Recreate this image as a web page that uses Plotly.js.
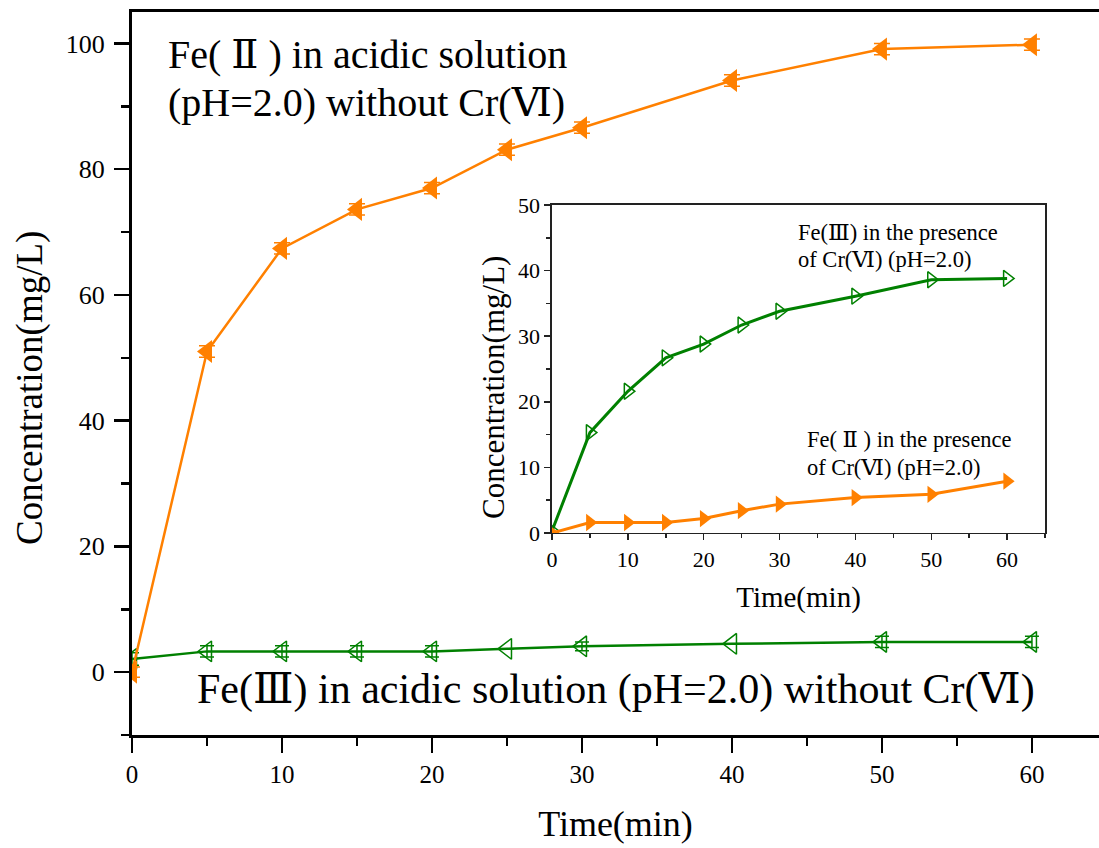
<!DOCTYPE html>
<html>
<head>
<meta charset="utf-8">
<script src="https://cdn.plot.ly/plotly-3.0.1.min.js"></script>
<style>html,body{margin:0;padding:0;background:#fff;overflow:hidden}</style>
</head>
<body>
<div id="chart" style="width:1099px;height:848px"></div>
<script>
// Main chart data
const time = [0, 5, 10, 15, 20, 25, 30, 40, 50, 60];
const fe2NoCr = [0, 51.0, 67.4, 73.6, 77.0, 83.1, 86.6, 94.1, 99.1, 99.8];
const fe3NoCr = [2.1, 3.3, 3.3, 3.3, 3.3, 3.7, 4.1, 4.5, 4.8, 4.8];
const fe2NoCrErr = [0.8, 0.9, 0.9, 0.9, 0.9, 0.9, 0.9, 0.9, 0.9, 0.9];
const fe3NoCrErr = [1.0, 0.9, 0.9, 0.9, 0.9, 0, 0.7, 0, 0.9, 0.9];
// Inset data
const fe3WithCr = [0.3, 15.3, 21.6, 26.7, 28.8, 31.7, 33.8, 36.1, 38.6, 38.8];
const fe2WithCr = [0, 1.6, 1.6, 1.6, 2.2, 3.4, 4.4, 5.4, 5.9, 7.9];
// Text labels
const mainNote1 = ['Fe( Ⅱ ) in acidic solution', '(pH=2.0) without Cr(Ⅵ)'];
const mainNote2 = 'Fe(Ⅲ) in acidic solution (pH=2.0) without Cr(Ⅵ)';
const insetNote1 = ['Fe(Ⅲ) in the presence', 'of Cr(Ⅵ) (pH=2.0)'];
const insetNote2 = ['Fe( Ⅱ ) in the presence', 'of Cr(Ⅵ) (pH=2.0)'];

const ORANGE = '#FF8000';
const GREEN = '#008000';
const FONT = '"Liberation Serif", "DejaVu Serif", serif';

const traces = [
  {x: time, y: fe3NoCr, type: 'scatter', mode: 'lines+markers',
   line: {color: GREEN, width: 2.5},
   marker: {symbol: 'triangle-left-open', size: 18, color: GREEN, line: {width: 1.5, color: GREEN}},
   error_y: {type: 'data', array: fe3NoCrErr, visible: true, color: GREEN, thickness: 1.5, width: 7},
   xaxis: 'x', yaxis: 'y', showlegend: false},
  {x: time, y: fe2NoCr, type: 'scatter', mode: 'lines+markers',
   line: {color: ORANGE, width: 2.5},
   marker: {symbol: 'triangle-left', size: 20, color: ORANGE, line: {width: 0}},
   error_y: {type: 'data', array: fe2NoCrErr, visible: true, color: ORANGE, thickness: 1.5, width: 8},
   xaxis: 'x', yaxis: 'y', showlegend: false},
  {x: time, y: fe3WithCr, type: 'scatter', mode: 'lines+markers',
   line: {color: GREEN, width: 3},
   marker: {symbol: 'triangle-right-open', size: 14, color: GREEN, line: {width: 1.5, color: GREEN}},
   xaxis: 'x2', yaxis: 'y2', showlegend: false},
  {x: time, y: fe2WithCr, type: 'scatter', mode: 'lines+markers',
   line: {color: ORANGE, width: 3},
   marker: {symbol: 'triangle-right', size: 15, color: ORANGE, line: {width: 0}},
   xaxis: 'x2', yaxis: 'y2', showlegend: false}
];

function note(text, xpx, ypx, size, anchor) {
  return {xref: 'paper', yref: 'paper',
    x: (xpx - 132) / 967, y: (735 - ypx) / 723,
    xanchor: anchor || 'left', yanchor: 'middle', text: text, showarrow: false,
    font: {size: size, family: FONT, color: '#000'}};
}

const annotations = [
  note(mainNote1[0], 166, 54, 40),
  note(mainNote1[1], 166, 102, 40),
  note(mainNote2, 195, 689, 42),
  note(insetNote1[0], 796, 232, 22.5),
  note(insetNote1[1], 796, 259, 22.5),
  note(insetNote2[0], 805, 439, 22.5),
  note(insetNote2[1], 805, 467, 22.5)
];
const yTitle = note('Concentration(mg/L)', 30, 388, 37, 'center');
yTitle.textangle = -90;
annotations.push(yTitle);
const yTitle2 = note('Concentration(mg/L)', 494, 388, 31, 'center');
yTitle2.textangle = -90;
annotations.push(yTitle2);

const layout = {
  width: 1099, height: 848,
  margin: {l: 132, r: 0, t: 12, b: 113},
  paper_bgcolor: '#fff', plot_bgcolor: 'rgba(0,0,0,0)',
  font: {family: FONT, color: '#000', size: 22},
  xaxis: {
    range: [0, 64.47], domain: [0, 1], showgrid: false, zeroline: false,
    showline: true, linecolor: '#000', linewidth: 3, mirror: true,
    ticks: 'outside', ticklen: 15, tickwidth: 2.5, tickcolor: '#000',
    tick0: 0, dtick: 10, tickfont: {family: FONT, size: 25},
    minor: {dtick: 5, ticks: 'outside', ticklen: 8, tickwidth: 2.5, tickcolor: '#000'},
    title: {text: 'Time(min)', font: {size: 36, family: FONT}, standoff: 24}
  },
  yaxis: {
    range: [-10, 105], domain: [0, 1], showgrid: false, zeroline: false,
    showline: true, linecolor: '#000', linewidth: 3, mirror: false,
    ticks: 'outside', ticklen: 15, tickwidth: 2.5, tickcolor: '#000',
    tick0: 0, dtick: 20, tickfont: {family: FONT, size: 26}, ticklabelstandoff: 4,
    minor: {dtick: 10, ticks: 'outside', ticklen: 8, tickwidth: 2.5, tickcolor: '#000'}
  },
  xaxis2: {
    anchor: 'y2', domain: [0.4343, 0.9442], range: [0, 65],
    showgrid: false, zeroline: false,
    showline: true, linecolor: '#222', linewidth: 1.5, mirror: true,
    ticks: 'outside', ticklen: 6, tickwidth: 1.5, tickcolor: '#222',
    tick0: 0, dtick: 10, tickfont: {family: FONT, size: 22},
    minor: {dtick: 5, ticks: 'outside', ticklen: 4, tickwidth: 1.5, tickcolor: '#222'},
    title: {text: 'Time(min)', font: {size: 29, family: FONT}, standoff: 16}
  },
  yaxis2: {
    anchor: 'x2', domain: [0.2794, 0.7331], range: [0, 50],
    showgrid: false, zeroline: false,
    showline: true, linecolor: '#222', linewidth: 1.5, mirror: true,
    ticks: 'outside', ticklen: 6, tickwidth: 1.5, tickcolor: '#222',
    tick0: 0, dtick: 10, tickfont: {family: FONT, size: 22},
    minor: {dtick: 5, ticks: 'outside', ticklen: 4, tickwidth: 1.5, tickcolor: '#222'}
  },
  annotations: annotations
};

Plotly.newPlot('chart', traces, layout, {displayModeBar: false, staticPlot: true});
</script>
</body>
</html>
